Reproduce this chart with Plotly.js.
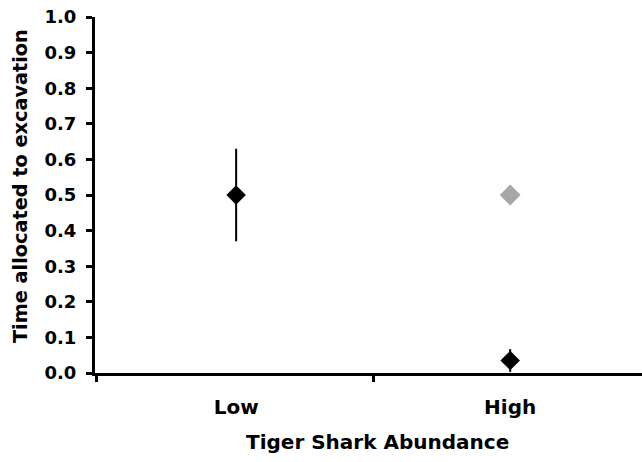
<!DOCTYPE html>
<html>
<head>
<meta charset="utf-8">
<script src="https://cdn.plot.ly/plotly-3.0.1.min.js"></script>
<style>html,body{margin:0;padding:0;background:#fff;}#chart{width:642px;height:462px;}</style>
</head>
<body>
<div id="chart"></div>
<script>
// Data
const categories = ["Low", "High"];
const catPos = [0, 1];
const blackValues = [0.5, 0.035];
const blackErrors = [0.13, 0.032];
const grayCategory = [1];
const grayValues = [0.5];
const yTickVals = [0, 0.1, 0.2, 0.3, 0.4, 0.5, 0.6, 0.7, 0.8, 0.9, 1.0];
const yTickText = ["0.0", "0.1", "0.2", "0.3", "0.4", "0.5", "0.6", "0.7", "0.8", "0.9", "1.0"];
const xTitle = "Tiger Shark Abundance";
const yTitle = "Time allocated to excavation";

const FAMILY = "DejaVu Sans, Verdana, sans-serif";
const YTICKFONT = {family: FAMILY, size: 18, color: "#000", weight: "bold"};
const XTICKFONT = {family: FAMILY, size: 20, color: "#000", weight: "bold"};
const XTITLEFONT = {family: FAMILY, size: 20, color: "#000", weight: "bold"};
const YTITLEFONT = {family: FAMILY, size: 19.3, color: "#000", weight: "bold"};
const b = s => "<b>" + s + "</b>";

const traces = [
  {
    x: grayCategory, y: grayValues, type: "scatter", mode: "markers",
    marker: {symbol: "diamond", size: 16, color: "#a6a6a6"},
    showlegend: false, hoverinfo: "skip"
  },
  {
    x: catPos, y: blackValues, type: "scatter", mode: "markers",
    marker: {symbol: "diamond", size: 15, color: "#000"},
    error_y: {type: "data", array: blackErrors, visible: true, color: "#000", thickness: 2, width: 0},
    showlegend: false, hoverinfo: "skip"
  }
];

const layout = {
  width: 642, height: 462,
  margin: {l: 95, r: 0, t: 17, b: 89, pad: 0},
  paper_bgcolor: "#fff", plot_bgcolor: "#fff",
  font: YTICKFONT,
  showlegend: false,
  xaxis: {
    range: [-0.515, 1.481],
    tickmode: "array", tickvals: catPos, ticktext: categories.map(b),
    ticks: "", ticklabelstandoff: 14,
    showline: true, linecolor: "#000", linewidth: 3,
    showgrid: false, zeroline: false,
    minor: {tickmode: "array", tickvals: [-0.511, 0.5], ticks: "outside", ticklen: 6, tickwidth: 3, tickcolor: "#000", showgrid: false},
    tickfont: XTICKFONT,
    fixedrange: true
  },
  yaxis: {
    range: [0, 1],
    tickmode: "array", tickvals: yTickVals, ticktext: yTickText.map(b),
    ticks: "outside", ticklen: 6, tickwidth: 3, tickcolor: "#000",
    showline: true, linecolor: "#000", linewidth: 3,
    showgrid: false, zeroline: false,
    tickfont: YTICKFONT, ticklabelstandoff: 6,
    fixedrange: true
  },
  annotations: [
    {text: b(xTitle), xref: "paper", yref: "paper", x: 0.517, y: -0.1938,
     xanchor: "center", yanchor: "middle", showarrow: false, font: XTITLEFONT},
    {text: b(yTitle), xref: "paper", yref: "paper", x: -0.1371, y: 0.525,
     xanchor: "center", yanchor: "middle", textangle: -90, showarrow: false, font: YTITLEFONT}
  ]
};

Plotly.newPlot("chart", traces, layout, {displayModeBar: false, staticPlot: true});
</script>
</body>
</html>
